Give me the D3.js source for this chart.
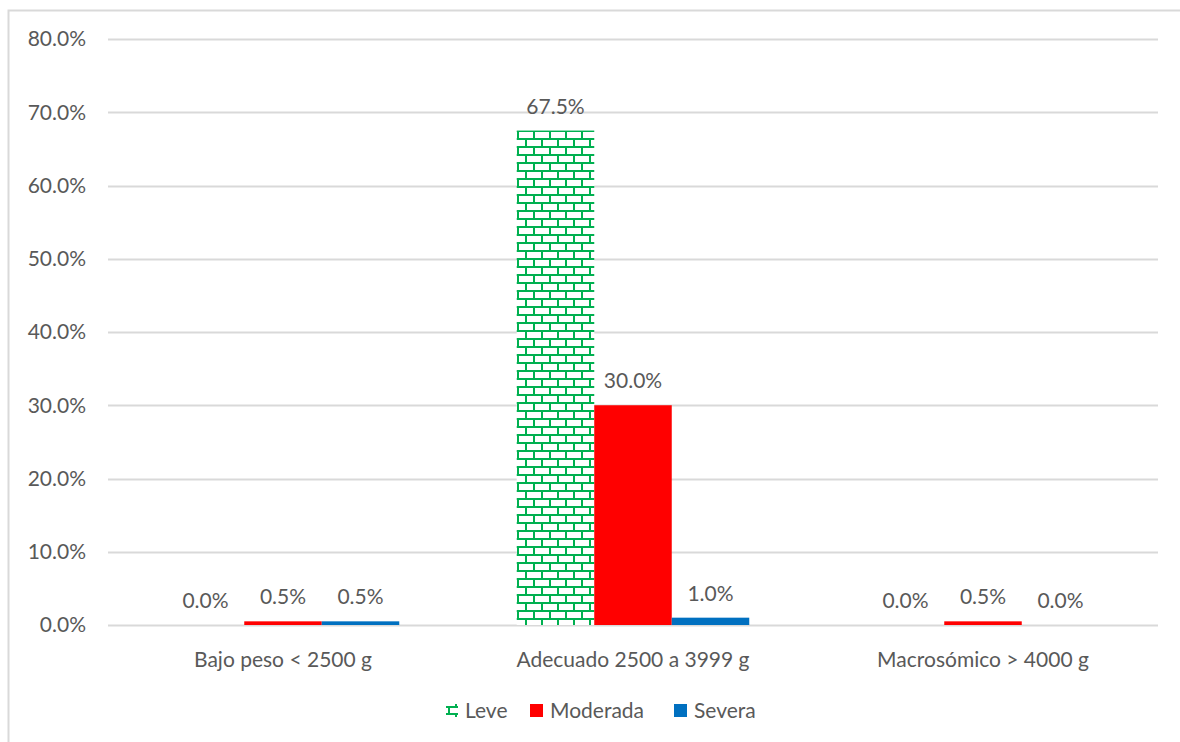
<!DOCTYPE html>
<html>
  <head>
    <meta charset="UTF-8" />
    <style>
      body {
        margin: 0;
        background: #fff;
      }
      text {
        font-family: Lato, 'Open Sans', sans-serif;
        fill: #595959;
      }
    </style>
  </head>
  <body>
    <svg></svg>

    <script src="https://d3js.org/d3.v7.min.js"></script>

    <script>
      const categories = ['Bajo peso < 2500 g', 'Adecuado 2500 a 3999 g', 'Macrosómico > 4000 g']
      const seriesNames = ['Leve', 'Moderada', 'Severa']
      const leve = [0.0, 0.675, 0.0]
      const moderada = [0.005, 0.3, 0.005]
      const severa = [0.005, 0.01, 0.0]
      const yTicks = [0, 0.1, 0.2, 0.3, 0.4, 0.5, 0.6, 0.7, 0.8]

      const colors = { Leve: 'url(#brick)', Moderada: '#ff0000', Severa: '#0070c0' }

      let width = 1180,
        height = 742

      let svg = d3.select('svg').attr('width', width).attr('height', height)

      // brick pattern used for "Leve"
      let defs = svg.append('defs')
      let pat = defs
        .append('pattern')
        .attr('id', 'brick')
        .attr('patternUnits', 'userSpaceOnUse')
        .attr('width', 16)
        .attr('height', 16)
        .attr('x', 517)
        .attr('y', 130)
      pat.append('rect').attr('width', 16).attr('height', 16).attr('fill', '#fff')
      let g0 = pat.append('g').attr('stroke', '#00b050').attr('stroke-width', 2)
      g0.append('line').attr('x1', 0).attr('x2', 16).attr('y1', 1).attr('y2', 1)
      g0.append('line').attr('x1', 0).attr('x2', 16).attr('y1', 9).attr('y2', 9)
      g0.append('line').attr('x1', 1).attr('x2', 1).attr('y1', 1).attr('y2', 9)
      g0.append('line').attr('x1', 9).attr('x2', 9).attr('y1', 9).attr('y2', 17)

      // outer frame (left and top edges visible)
      svg
        .append('rect')
        .attr('x', 8.5)
        .attr('y', 10.5)
        .attr('width', width + 10)
        .attr('height', height + 10)
        .attr('fill', 'none')
        .attr('stroke', '#d9d9d9')
        .attr('stroke-width', 2)

      let x0 = d3.scaleBand().domain(categories).range([108, 1158]).paddingInner(0).paddingOuter(0)
      let x1 = d3.scaleBand().domain(seriesNames).range([0, x0.bandwidth()]).paddingInner(0).paddingOuter(0.758)
      let y = d3.scaleLinear().domain([0, 0.8]).range([625, 39])

      // gridlines
      svg
        .append('g')
        .selectAll('line')
        .data(yTicks)
        .enter()
        .append('line')
        .attr('x1', 108)
        .attr('x2', 1158)
        .attr('y1', (d) => Math.round(y(d)) + 0.5)
        .attr('y2', (d) => Math.round(y(d)) + 0.5)
        .attr('stroke', '#d9d9d9')
        .attr('stroke-width', 2)

      // y labels
      svg
        .append('g')
        .selectAll('text')
        .data(yTicks)
        .enter()
        .append('text')
        .attr('x', 86)
        .attr('y', (d) => y(d))
        .attr('dy', '0.35em')
        .attr('text-anchor', 'end')
        .style('font-size', '21px')
        .text(d3.format('.1%'))

      let data = []
      categories.forEach((c, i) => {
        data.push({ cat: c, s: 'Leve', v: leve[i] })
        data.push({ cat: c, s: 'Moderada', v: moderada[i] })
        data.push({ cat: c, s: 'Severa', v: severa[i] })
      })

      let bars = svg.append('g')
      bars
        .selectAll('rect')
        .data(data)
        .enter()
        .append('rect')
        .attr('x', (d) => x0(d.cat) + x1(d.s))
        .attr('width', x1.bandwidth())
        .attr('y', (d) => y(d.v))
        .attr('height', (d) => y(0) - y(d.v))
        .attr('fill', (d) => colors[d.s])

      // value labels
      svg
        .append('g')
        .selectAll('text')
        .data(data)
        .enter()
        .append('text')
        .attr('x', (d) => x0(d.cat) + x1(d.s) + x1.bandwidth() / 2)
        .attr('y', (d) => y(d.v) - 17)
        .attr('text-anchor', 'middle')
        .style('font-size', '21px')
        .text((d) => d3.format('.1%')(d.v))

      // category labels
      svg
        .append('g')
        .selectAll('text')
        .data(categories)
        .enter()
        .append('text')
        .attr('x', (d) => x0(d) + x0.bandwidth() / 2)
        .attr('y', 667)
        .attr('text-anchor', 'middle')
        .style('font-size', '21px')
        .text((d) => d)

      // legend
      let legX = [444, 529, 673]
      let leg = svg
        .append('g')
        .selectAll('g')
        .data(seriesNames)
        .enter()
        .append('g')
        .attr('transform', (d, i) => 'translate(' + legX[i] + ',711)')
      leg.each(function (d) {
        let el = d3.select(this)
        if (d === 'Leve') {
          let ic = el.append('g').attr('stroke', '#00b050').attr('stroke-width', 2).attr('fill', 'none')
          ic.append('line').attr('x1', 2).attr('x2', 14).attr('y1', -4).attr('y2', -4)
          ic.append('line').attr('x1', 2).attr('x2', 14).attr('y1', 3).attr('y2', 3)
          ic.append('line').attr('x1', 5).attr('x2', 5).attr('y1', -4).attr('y2', 3)
          ic.append('line').attr('x1', 12).attr('x2', 12).attr('y1', 3).attr('y2', 6)
          ic.append('line').attr('x1', 12).attr('x2', 12).attr('y1', -7).attr('y2', -4)
        } else {
          el.append('rect').attr('x', 1).attr('y', -7).attr('width', 13).attr('height', 13).attr('fill', colors[d])
        }
        el.append('text')
          .attr('x', 21)
          .attr('y', 0)
          .attr('dy', '0.35em')
          .style('font-size', '21px')
          .text(d)
      })
    </script>
  </body>
</html>
